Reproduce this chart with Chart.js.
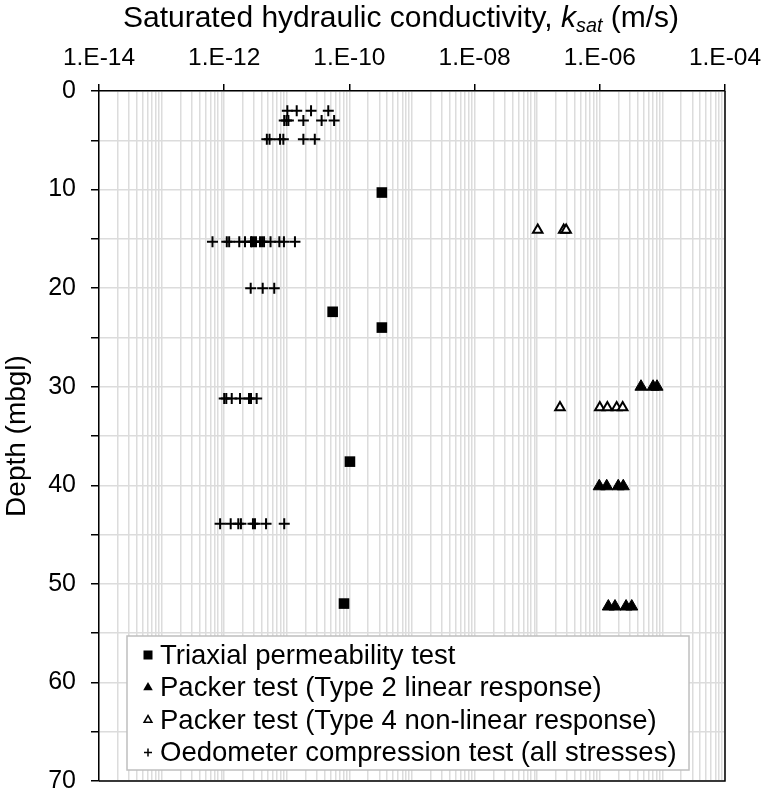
<!DOCTYPE html>
<html>
<head>
<meta charset="utf-8">
<script src="https://cdn.jsdelivr.net/npm/chart.js@4"></script>
<style>
  html, body { margin: 0; padding: 0; background: #fff; }
  #wrap { position: relative; width: 766px; height: 798px; }
  #title {
    position: absolute; left: 0; top: 2px; width: 766px; box-sizing: border-box;
    padding-left: 36px; text-align: center; line-height: 1;
    font-family: "Liberation Sans", Arial, sans-serif; font-size: 30px; color: #000;
  }
  #title sub { font-size: 0.66em; vertical-align: -0.25em; line-height: 0; }
</style>
</head>
<body>
<div id="wrap">
  <canvas id="chart" width="766" height="798"></canvas>
  <div id="title">Saturated hydraulic conductivity, <i>k<sub>sat</sub></i> (m/s)</div>
</div>
<script>
// tick labels
const xTickValues = [1e-14, 1e-12, 1e-10, 1e-8, 1e-6, 1e-4];
const xTickLabels = ['1.E-14', '1.E-12', '1.E-10', '1.E-08', '1.E-06', '1.E-04'];
const yTickLabels = ['0', '10', '20', '30', '40', '50', '60', '70'];

// Triaxial permeability test
const triaxialDepth = [10.3, 22.4, 24.0, 37.6, 52.0];
const triaxialK = [3.3e-10, 5.4e-11, 3.3e-10, 1.02e-10, 8.2e-11];

// Packer test, type 2 linear response
const packer2Depth = [30.0, 30.0, 30.0, 40.1, 40.1, 40.1, 40.1, 52.3, 52.3, 52.3, 52.3];
const packer2K = [4.55e-6, 7.1e-6, 8.2e-6, 0.98e-6, 1.29e-6, 1.97e-6, 2.37e-6, 1.37e-6, 1.75e-6, 2.63e-6, 3.24e-6];

// Packer test, type 4 non-linear response
const packer4Depth = [14.1, 14.1, 14.1, 32.1, 32.1, 32.1, 32.1, 32.1];
const packer4K = [1.02e-7, 2.65e-7, 2.9e-7, 2.31e-7, 1.0e-6, 1.32e-6, 1.86e-6, 2.32e-6];

// Oedometer compression test (all stresses)
const oedoDepth = [
  2, 2, 2, 2,
  3, 3, 3, 3, 3, 3,
  4.9, 4.9, 4.9, 4.9, 4.9, 4.9,
  15.3, 15.3, 15.3, 15.3, 15.3, 15.3, 15.3, 15.3, 15.3, 15.3, 15.3, 15.3, 15.3, 15.3, 15.3, 15.3,
  20, 20, 20,
  31.2, 31.2, 31.2, 31.2, 31.2, 31.2, 31.2,
  43.9, 43.9, 43.9, 43.9, 43.9, 43.9, 43.9, 43.9
];
const oedoK = [
  1.02e-11, 1.44e-11, 2.44e-11, 4.6e-11,
  9.1e-12, 9.9e-12, 1.06e-11, 1.84e-11, 3.6e-11, 5.7e-11,
  4.8e-12, 5.3e-12, 7.8e-12, 8.8e-12, 1.84e-11, 2.8e-11,
  6.5e-13, 1.10e-12, 1.2e-12, 1.74e-12, 2.15e-12, 2.68e-12, 2.78e-12, 2.99e-12, 3.22e-12, 3.73e-12, 4.02e-12, 4.33e-12, 5.5e-12, 7.6e-12, 9.0e-12, 1.35e-11,
  2.65e-12, 4.12e-12, 6.3e-12,
  1.0e-12, 1.08e-12, 1.32e-12, 1.79e-12, 2.49e-12, 2.68e-12, 3.3e-12,
  8.6e-13, 1.27e-12, 1.68e-12, 1.85e-12, 2.88e-12, 3.1e-12, 4.66e-12, 9.1e-12
];

function pts(ks, depths) {
  return ks.map((k, i) => ({ x: k, y: depths[i] }));
}

function labelFor(value) {
  for (let i = 0; i < xTickValues.length; i++) {
    if (Math.abs(Math.log10(value) - Math.log10(xTickValues[i])) < 1e-6) return xTickLabels[i];
  }
  return null;
}

const FONT = '"Liberation Sans", Arial, sans-serif';

// legend box drawn inside the plot area
const legendBox = {
  id: 'legendBox',
  afterDraw(chart) {
    const ctx = chart.ctx;
    const area = chart.chartArea;
    ctx.save();
    // right and bottom frame lines
    ctx.strokeStyle = '#000';
    ctx.lineWidth = 1.5;
    ctx.beginPath();
    ctx.moveTo(area.left, area.bottom);
    ctx.lineTo(area.right, area.bottom);
    ctx.lineTo(area.right, area.top);
    ctx.stroke();

    const bx = 127, by = 636, bw = 562, bh = 134;
    ctx.fillStyle = '#fff';
    ctx.fillRect(bx, by, bw, bh);
    ctx.strokeStyle = '#bfbfbf';
    ctx.lineWidth = 1.5;
    ctx.strokeRect(bx, by, bw, bh);

    ctx.font = '27.5px ' + FONT;
    ctx.textBaseline = 'middle';
    ctx.textAlign = 'left';
    const mx = 148, tx = 160;
    chart.data.datasets.forEach((ds, i) => {
      const y = by + 19 + i * 32.5;
      ctx.fillStyle = '#000';
      ctx.strokeStyle = '#000';
      if (ds.pointStyle === 'rect') {
        ctx.fillRect(mx - 4.5, y - 4.5, 9, 9);
      } else if (ds.pointStyle === 'triangle') {
        const r = ds.backgroundColor === '#fff' ? 4.5 : 5.5;
        ctx.beginPath();
        ctx.moveTo(mx, y - r);
        ctx.lineTo(mx + r * 0.87, y + r * 0.5);
        ctx.lineTo(mx - r * 0.87, y + r * 0.5);
        ctx.closePath();
        if (ds.backgroundColor === '#fff') {
          ctx.fillStyle = '#fff';
          ctx.fill();
          ctx.lineWidth = 1.5;
          ctx.stroke();
        } else {
          ctx.fill();
        }
      } else {
        ctx.lineWidth = 1.5;
        ctx.beginPath();
        ctx.moveTo(mx - 4, y); ctx.lineTo(mx + 4, y);
        ctx.moveTo(mx, y - 4); ctx.lineTo(mx, y + 4);
        ctx.stroke();
      }
      ctx.fillStyle = '#000';
      ctx.fillText(ds.label, tx, y + 1);
    });
    ctx.restore();
  }
};

const ctx = document.getElementById('chart').getContext('2d');
const chart = new Chart(ctx, {
  type: 'scatter',
  data: {
    datasets: [{
      label: 'Triaxial permeability test',
      data: pts(triaxialK, triaxialDepth),
      pointStyle: 'rect',
      pointRadius: 7.5,
      backgroundColor: '#000',
      borderColor: '#000',
      borderWidth: 0
    }, {
      label: 'Packer test (Type 2 linear response)',
      data: pts(packer2K, packer2Depth),
      pointStyle: 'triangle',
      pointRadius: 7,
      backgroundColor: '#000',
      borderColor: '#000',
      borderWidth: 1
    }, {
      label: 'Packer test (Type 4 non-linear response)',
      data: pts(packer4K, packer4Depth),
      pointStyle: 'triangle',
      pointRadius: 5.5,
      backgroundColor: '#fff',
      borderColor: '#000',
      borderWidth: 2
    }, {
      label: 'Oedometer compression test (all stresses)',
      data: pts(oedoK, oedoDepth),
      pointStyle: 'cross',
      pointRadius: 5.5,
      backgroundColor: '#000',
      borderColor: '#000',
      borderWidth: 2
    }]
  },
  options: {
    responsive: false,
    animation: false,
    layout: { padding: { left: 0, top: 0, right: 41, bottom: 17 } },
    plugins: {
      legend: { display: false },
      tooltip: { enabled: false }
    },
    scales: {
      x: {
        type: 'logarithmic',
        position: 'top',
        min: 1e-14,
        max: 1e-4,
        afterBuildTicks: (scale) => {
          const ticks = [];
          for (let e = -14; e < -4; e++) {
            for (let m = 1; m <= 9; m++) ticks.push({ value: parseFloat(m + 'e' + e) });
          }
          ticks.push({ value: 1e-4 });
          scale.ticks = ticks;
        },
        afterFit: (scale) => {
          scale.height = 91;
          scale.paddingLeft = 0;
          scale.paddingRight = 0;
        },
        border: { color: '#000', width: 1.5 },
        grid: {
          color: '#dcdcdc',
          lineWidth: 1.5,
          tickLength: 7,
          tickColor: (c) => (c.tick && labelFor(c.tick.value) ? '#000' : 'rgba(0,0,0,0)'),
          tickWidth: 1.5
        },
        ticks: {
          autoSkip: false,
          maxRotation: 0,
          minRotation: 0,
          padding: 11,
          color: '#000',
          font: { family: FONT, size: 24.5 },
          callback: (v) => labelFor(v) || ''
        }
      },
      y: {
        type: 'linear',
        reverse: true,
        min: 0,
        max: 70,
        afterFit: (scale) => {
          scale.width = 99;
          scale.paddingTop = 0;
          scale.paddingBottom = 0;
        },
        border: { color: '#000', width: 1.5 },
        grid: {
          color: '#dcdcdc',
          lineWidth: 1.5,
          tickLength: 8,
          tickColor: '#000',
          tickWidth: 1.5
        },
        title: {
          display: true,
          text: 'Depth (mbgl)',
          color: '#000',
          font: { family: FONT, size: 28 },
          padding: { top: 0, bottom: 0 }
        },
        ticks: {
          stepSize: 5,
          padding: 15,
          color: '#000',
          font: { family: FONT, size: 25 },
          callback: (v) => (v % 10 === 0 ? yTickLabels[v / 10] : '')
        }
      }
    }
  },
  plugins: [legendBox]
});
</script>
</body>
</html>
